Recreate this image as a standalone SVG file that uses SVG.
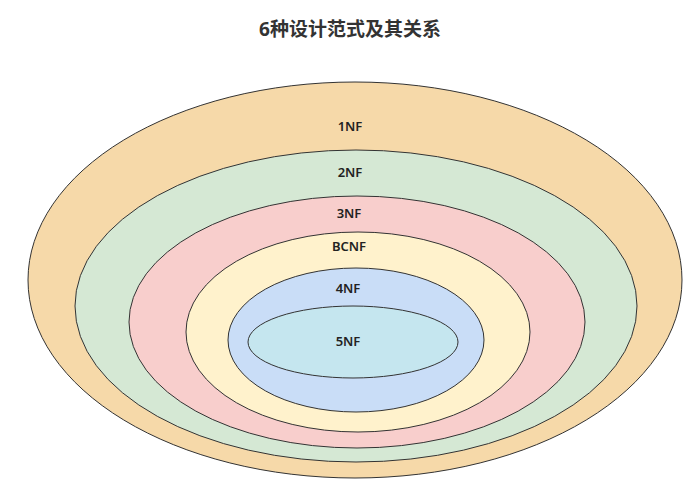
<svg xmlns="http://www.w3.org/2000/svg" width="693" height="488" viewBox="0 0 693 488">
<style>
ellipse{stroke:#333;stroke-width:1}
text{font-family:"Noto Sans","Noto Sans CJK SC",sans-serif;font-size:13px;font-weight:600;fill:#222;text-anchor:middle}
.t{font-size:19px;font-weight:bold;fill:#333}
</style>
<rect width="693" height="488" fill="#fff"/>
<text class="t" x="350" y="36">6种设计范式及其关系</text>
<g id="n1"><ellipse cx="355" cy="280" rx="327" ry="198" fill="#f6d9a9"/><text x="350" y="131">1NF</text></g>
<g id="n2"><ellipse cx="356" cy="306" rx="281" ry="156" fill="#d5e8d4"/><text x="350" y="177">2NF</text></g>
<g id="n3"><ellipse cx="357" cy="322" rx="228" ry="126" fill="#f8cecc"/><text x="349" y="218">3NF</text></g>
<g id="n4"><ellipse cx="358" cy="332" rx="172" ry="100" fill="#fff2cc"/><text x="349" y="251">BCNF</text></g>
<g id="n5"><ellipse cx="356" cy="340" rx="128" ry="72" fill="#c9ddf7"/><text x="348" y="293">4NF</text></g>
<g id="n6"><ellipse cx="353" cy="342" rx="105" ry="36" fill="#c5e6ef"/><text x="348" y="346">5NF</text></g>
<g id="connectors"/>
</svg>
